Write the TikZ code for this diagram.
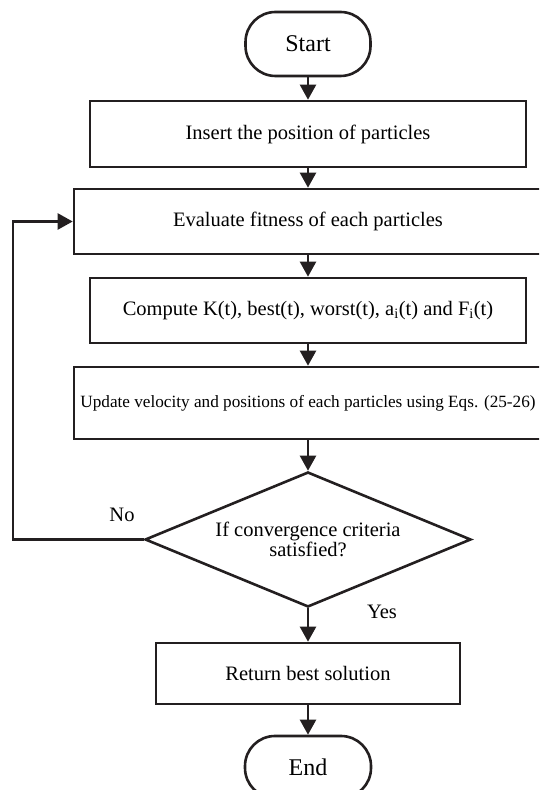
\documentclass[tikz,border=0pt]{standalone}
\usepackage{fontspec}
\setmainfont{Liberation Serif}
\usetikzlibrary{shapes.geometric,arrows.meta}
\definecolor{ink}{HTML}{231F20}
\begin{document}
\begin{tikzpicture}[x=1pt,y=1pt,
  line width=2.6pt, draw=ink,
  box/.style={draw=ink,rectangle,inner sep=0pt,align=center,font=\fontsize{20.5}{24}\selectfont},
  term/.style={draw=ink,rectangle,rounded corners=30pt,inner sep=0pt,font=\fontsize{24}{28}\selectfont},
  cond/.style={draw=ink,diamond,aspect=2.41,inner sep=0pt,align=center,font=\fontsize{20.5}{17}\selectfont},
  lbl/.style={inner sep=0pt,font=\fontsize{20.5}{24}\selectfont},
  arr/.style={draw=ink,line width=2.3pt,-{Triangle[length=15pt,width=16pt]}}]
\clip (0,0) rectangle (539,790);
\node[term,minimum width=125pt,minimum height=64pt] (start) at (308,746) {Start};
\node[box,minimum width=436pt,minimum height=66pt] (insert) at (308,656) {Insert the position of particles};
\node[box,minimum width=468pt,minimum height=65pt] (eval) at (308,568.5) {Evaluate fitness of each particles};
\node[box,minimum width=436pt,minimum height=65pt] (comp) at (308,479.5) {Compute K(t), best(t), worst(t), a\textsubscript{i}(t) and F\textsubscript{i}(t)};
\node[box,minimum width=468pt,minimum height=72pt,font=\fontsize{17.2}{20}\selectfont] (upd) at (308,387) {Update velocity and positions of each particles using Eqs. (25-26)};
\node[cond,minimum width=326pt,minimum height=135pt] (conv) at (308,250.5) {If convergence criteria\\satisfied?};
\node[box,minimum width=304pt,minimum height=61pt] (ret) at (308,116.5) {Return best solution};
\node[term,minimum width=126pt,minimum height=62pt] (end) at (308,23) {End};
\node[lbl] (no) at (122,275) {No};
\node[lbl] (yes) at (382,178) {Yes};
\coordinate (lb) at (13,250.5);
\coordinate (lt) at (13,568.5);
\draw[arr] (start) -- (insert);
\draw[arr] (insert) -- (eval);
\draw[arr] (eval) -- (comp);
\draw[arr] (comp) -- (upd);
\draw[arr] (upd) -- (conv);
\draw[arr] (conv) -- (ret);
\draw[arr] (ret) -- (end);
\draw[arr] (conv.west) -- (lb) -- (lt) -- (eval.west);
\end{tikzpicture}
\end{document}
